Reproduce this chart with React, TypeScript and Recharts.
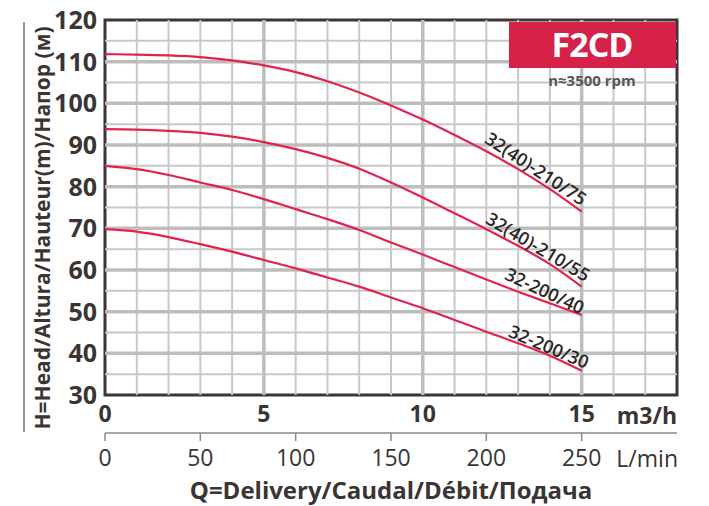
import React from "react";
import {
  LineChart,
  Line,
  XAxis,
  YAxis,
  ReferenceLine,
  ReferenceArea,
} from "recharts";

// flow in m3/h, head in m
const FLOW = [0, 1, 2, 3, 4, 5, 6, 7, 8, 9, 10, 11, 12, 13, 14, 15];
const H_210_75 = [111.8, 111.7, 111.5, 111.1, 110.3, 109.1, 107.5, 105.3, 102.6, 99.5, 96.1, 92.4, 88.5, 84.2, 79.4, 74.0];
const H_210_55 = [93.8, 93.7, 93.4, 92.9, 92.0, 90.7, 89.0, 86.9, 84.3, 81.0, 77.4, 73.6, 69.8, 65.8, 61.4, 56.0];
const H_200_40 = [85.0, 84.2, 82.8, 81.0, 79.2, 77.0, 74.6, 72.2, 69.6, 66.6, 63.7, 60.7, 57.7, 54.8, 52.0, 49.2];
const H_200_30 = [69.8, 69.2, 67.9, 66.2, 64.4, 62.4, 60.4, 58.2, 56.0, 53.4, 50.8, 48.0, 45.2, 42.4, 39.4, 35.8];

const Y_TICKS = [30, 40, 50, 60, 70, 80, 90, 100, 110, 120];
const M3H_TICKS = [0, 5, 10, 15];
const LMIN_TICKS = [0, 50, 100, 150, 200, 250];

const GRID_H_MAJOR = [40, 50, 60, 70, 80, 90, 100, 110];
const GRID_H_MINOR = [35, 45, 55, 65, 75, 85, 95, 105, 115];
const GRID_V_MAJOR = [5, 10, 15];
const GRID_V_MINOR = [1, 2, 3, 4, 6, 7, 8, 9, 11, 12, 13, 14, 16, 17];

// 1 m3/h = 1000/60 L/min
const data = FLOW.map((q, i) => ({
  q,
  lmin: (q * 1000) / 60,
  h75: H_210_75[i],
  h55: H_210_55[i],
  h40: H_200_40[i],
  h30: H_200_30[i],
}));

const SERIES = [
  { key: "h75", name: "32(40)-210/75", angle: 33.3, along: -23, perp: -3 },
  { key: "h55", name: "32(40)-210/55", angle: 30.7, along: -19, perp: -2.5 },
  { key: "h40", name: "32-200/40", angle: 25, along: -10, perp: -2.7 },
  { key: "h30", name: "32-200/30", angle: 22.7, along: -4.5, perp: -1.5 },
];

const RED = "#e2224f";
const DARK = "#3a3434";
const MINOR = "#c8c8c8";
const MAJOR = "#bdbdbd";
const FONT = "'Open Sans', 'Noto Sans', sans-serif";

function curveLabel(s: (typeof SERIES)[number]) {
  return (props: any) => {
    if (props.index !== 14) return <g />;
    return (
      <g transform={`translate(${props.x},${props.y}) rotate(${s.angle})`}>
        <text
          x={s.along}
          y={s.perp}
          textAnchor="middle"
          fontFamily={FONT}
          fontSize={18}
          fontWeight={600}
          fill="#2a2626"
        >
          {s.name}
        </text>
      </g>
    );
  };
}

export default function App() {
  return (
    <div style={{ position: "absolute", left: 0, top: 0, width: 709, height: 506 }}>
      <LineChart
        width={709}
        height={506}
        data={data}
        margin={{ top: 20, right: 32, left: 35, bottom: 28 }}
      >
        <XAxis
          xAxisId={0}
          dataKey="q"
          type="number"
          domain={[0, 18]}
          ticks={M3H_TICKS}
          height={38}
          axisLine={false}
          tickLine={false}
          tickSize={0}
          tickMargin={11}
          tick={{ fontFamily: FONT, fontSize: 23, fontWeight: 700, fill: DARK }}
        />
        <XAxis
          xAxisId={1}
          dataKey="lmin"
          type="number"
          domain={[0, 300]}
          allowDataOverflow
          ticks={LMIN_TICKS}
          height={45}
          axisLine={{ stroke: "#8a8a8a", strokeWidth: 1.5 }}
          tickLine={{ stroke: "#8a8a8a", strokeWidth: 1.5 }}
          tickSize={8}
          tickMargin={9}
          tick={{ fontFamily: FONT, fontSize: 23, fill: DARK }}
        />
        <YAxis
          type="number"
          domain={[30, 120]}
          ticks={Y_TICKS}
          width={70}
          axisLine={false}
          tickLine={false}
          tickSize={0}
          tickMargin={8}
          tick={{ fontFamily: FONT, fontSize: 25, fontWeight: 700, fill: DARK }}
        />
        {GRID_H_MINOR.map((v) => (
          <ReferenceLine key={`hm${v}`} xAxisId={0} y={v} stroke={MINOR} strokeWidth={2} />
        ))}
        {GRID_V_MINOR.map((v) => (
          <ReferenceLine key={`vm${v}`} xAxisId={0} x={v} stroke={MINOR} strokeWidth={2} />
        ))}
        {GRID_H_MAJOR.map((v) => (
          <ReferenceLine key={`hM${v}`} xAxisId={0} y={v} stroke={MAJOR} strokeWidth={3.5} />
        ))}
        {GRID_V_MAJOR.map((v) => (
          <ReferenceLine key={`vM${v}`} xAxisId={0} x={v} stroke={MAJOR} strokeWidth={3.5} />
        ))}
        {SERIES.map((s) => (
          <Line
            key={s.key}
            xAxisId={0}
            dataKey={s.key}
            type="monotone"
            stroke={RED}
            strokeWidth={2.2}
            dot={false}
            activeDot={false}
            isAnimationActive={false}
            label={curveLabel(s)}
          />
        ))}
        <ReferenceArea
          xAxisId={0}
          x1={0}
          x2={18}
          y1={30}
          y2={120}
          fill="none"
          stroke="#3d3533"
          strokeWidth={3}
        />
      </LineChart>
      <svg
        width={709}
        height={506}
        style={{ position: "absolute", left: 0, top: 0, pointerEvents: "none" }}
        fontFamily={FONT}
      >
        <rect x={509} y={22} width={167} height={46} fill="#d62249" />
        <text x={592} y={57} textAnchor="middle" fontSize={34} fontWeight={700} fill="#fff" letterSpacing={-1}>
          F2CD
        </text>
        <text x={592} y={86} textAnchor="middle" fontSize={15} fontWeight={700} fill="#5b5657">
          n≈3500 rpm
        </text>
        <text x={677} y={424} textAnchor="end" fontSize={23} fontWeight={700} fill={DARK}>
          m3/h
        </text>
        <text x={678} y={467} textAnchor="end" fontSize={23} fill={DARK}>
          L/min
        </text>
        <text x={391} y={499} textAnchor="middle" fontSize={24} fontWeight={700} fill={DARK}>
          Q=Delivery/Caudal/Débit/Подача
        </text>
        <line x1={24} y1={22} x2={24} y2={432} stroke="#555" strokeWidth={1.2} />
        <text
          transform="translate(50,228) rotate(-90)"
          textAnchor="middle"
          fontSize={21}
          fontWeight={700}
          fill={DARK}
        >
          H=Head/Altura/Hauteur(m)/Напор (м)
        </text>
      </svg>
    </div>
  );
}
